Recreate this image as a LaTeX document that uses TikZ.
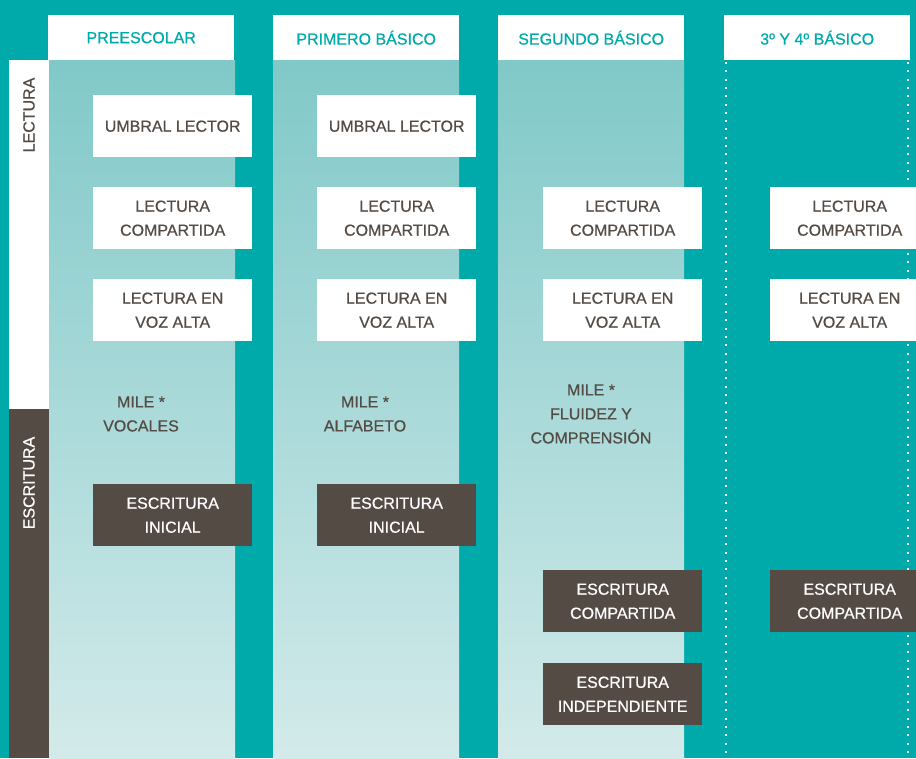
\documentclass[tikz,border=0pt]{standalone}
\usepackage{fontspec}
\setmainfont{Liberation Sans}[FakeBold=0.6]
\usetikzlibrary{positioning}
\definecolor{fondo}{HTML}{00AAAA}
\definecolor{cafe}{HTML}{544B45}
\definecolor{coltop}{HTML}{80C9C8}
\definecolor{colbot}{HTML}{D3EAEA}

\begin{document}
\begin{tikzpicture}[x=1pt,y=-1pt,
    header/.style={fill=white, text=fondo, minimum width=186pt, minimum height=45pt,
        anchor=north west, inner sep=0pt, font=\fontsize{16}{20}\selectfont},
    lectbox/.style={fill=white, text=cafe, minimum width=159pt, minimum height=62pt,
        anchor=north west, inner sep=0pt, align=center, font=\fontsize{16}{24}\selectfont},
    escbox/.style={lectbox, fill=cafe, text=white},
    miletext/.style={text=cafe, align=center, inner sep=0pt, font=\fontsize{16}{24}\selectfont},
    sidelabel/.style={rotate=90, inner sep=0pt, font=\fontsize{16}{20}\selectfont}]
    \useasboundingbox[fill=fondo] (0,0) rectangle (916,758);
    % columnas
    \foreach \x in {49,273,498}
        \shade[top color=coltop, bottom color=colbot] (\x,60) rectangle (\x+186,758);
    \draw[white, line width=2pt, dash pattern=on 2pt off 6.3pt] (726,62) -- (726,758) (908,62) -- (908,758);
    % encabezados
    \node[header] (pre) at (48,15) {PREESCOLAR};
    \node[header] (pri) at (273,15) {PRIMERO BÁSICO};
    \node[header] (seg) at (498,15) {SEGUNDO BÁSICO};
    \node[header] (ter) at (724,15) {3º Y 4º BÁSICO};
    % franja lateral
    \fill[white] (9,60) rectangle (49,409);
    \fill[cafe] (9,409) rectangle (49,758);
    \node[sidelabel, text=cafe] (lect) at (29,115) {LECTURA};
    \node[sidelabel, text=white] (escr) at (29,483) {ESCRITURA};
    % lectura
    \node[lectbox] (umb1) at (93,95) {UMBRAL LECTOR};
    \node[lectbox] (umb2) at (317,95) {UMBRAL LECTOR};
    \foreach \x/\n in {93/1,317/2,543/3,770/4} {
        \node[lectbox] (comp\n) at (\x,187) {LECTURA\\COMPARTIDA};
        \node[lectbox] (voz\n) at (\x,279) {LECTURA EN\\VOZ ALTA};
    }
    % mile
    \node[miletext] (mile1) at (141,414) {MILE *\\VOCALES};
    \node[miletext] (mile2) at (365,414) {MILE *\\ALFABETO};
    \node[miletext] (mile3) at (591,414) {MILE *\\FLUIDEZ Y\\COMPRENSIÓN};
    % escritura
    \node[escbox] (ini1) at (93,484) {ESCRITURA\\INICIAL};
    \node[escbox] (ini2) at (317,484) {ESCRITURA\\INICIAL};
    \node[escbox] (ecomp3) at (543,570) {ESCRITURA\\COMPARTIDA};
    \node[escbox] (ecomp4) at (770,570) {ESCRITURA\\COMPARTIDA};
    \node[escbox] (indep3) at (543,663) {ESCRITURA\\INDEPENDIENTE};
\end{tikzpicture}
\end{document}
